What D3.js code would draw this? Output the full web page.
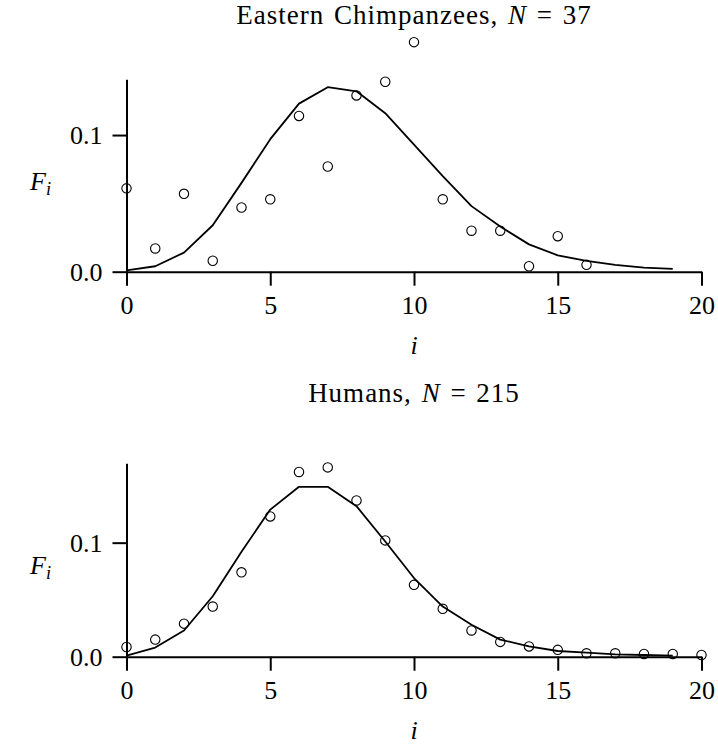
<!DOCTYPE html>
<html>
<head>
<meta charset="utf-8">
<script src="https://cdn.jsdelivr.net/npm/d3@7/dist/d3.min.js"></script>
<style>
  html, body { margin: 0; padding: 0; background: #fff; }
  svg text { font-family: "Liberation Serif", "Times New Roman", serif; fill: #000; }
</style>
</head>
<body>
<svg id="chart" width="718" height="746"></svg>
<script>
// Class index i (x axis)
const xTicks = [0, 5, 10, 15, 20];

// Eastern chimpanzees, N = 37
const chimpObserved = [0.061, 0.017, 0.057, 0.008, 0.047, 0.053, 0.114, 0.077, 0.129, 0.139,
                       0.168, 0.053, 0.030, 0.030, 0.004, 0.026, 0.005];
const chimpFitted   = [0.001, 0.004, 0.014, 0.034, 0.065, 0.097, 0.123, 0.135, 0.132, 0.116,
                       0.093, 0.070, 0.048, 0.033, 0.020, 0.012, 0.008, 0.005, 0.003, 0.002];

// Humans, N = 215
const humanObserved = [0.0085, 0.015, 0.029, 0.044, 0.074, 0.123, 0.162, 0.166, 0.137, 0.102,
                       0.063, 0.042, 0.023, 0.013, 0.009, 0.006, 0.003, 0.003, 0.0024, 0.0024, 0.0015];
const humanFitted   = [0.001, 0.008, 0.023, 0.053, 0.092, 0.129, 0.149, 0.149, 0.132, 0.101,
                       0.069, 0.044, 0.028, 0.015, 0.009, 0.005, 0.0035, 0.002, 0.0015, 0.001];

const yTicks = [0.0, 0.1];

const panels = [
  { name: "Eastern Chimpanzees", n: 37, observed: chimpObserved, fitted: chimpFitted,
    yMax: 0.1408, top: 79.3, bottom: 271.7, titleY: 24 },
  { name: "Humans", n: 215, observed: humanObserved, fitted: humanFitted,
    yMax: 0.1696, top: 463.3, bottom: 656.7, titleY: 402 }
];

const svg = d3.select("#chart");
const FS = 26;
const x = d3.scaleLinear().domain([0, 20]).range([126.5, 701.5]);

panels.forEach(p => {
  const y = d3.scaleLinear().domain([0, p.yMax]).range([p.bottom, p.top]);
  const g = svg.append("g");

  // title
  const t = g.append("text")
    .attr("x", x(10)).attr("y", p.titleY)
    .attr("text-anchor", "middle")
    .attr("font-size", 27)
    .attr("letter-spacing", 1)
    .attr("word-spacing", 2);
  t.append("tspan").text(p.name + ", ");
  t.append("tspan").attr("font-style", "italic").text("N");
  t.append("tspan").text(" = " + p.n);

  // x axis
  const xa = g.append("g")
    .attr("transform", `translate(0,${p.bottom})`)
    .call(d3.axisBottom(x).tickValues(xTicks).tickSize(14).tickSizeOuter(0).tickPadding(10));
  // y axis
  const ya = g.append("g")
    .attr("transform", `translate(${x(0)},0)`)
    .call(d3.axisLeft(y).tickValues(yTicks).tickFormat(d3.format(".1f"))
      .tickSize(14).tickSizeOuter(0).tickPadding(10));

  [xa, ya].forEach(a => {
    a.select(".domain").attr("stroke", "#000").attr("stroke-width", 2);
    a.selectAll(".tick line").attr("stroke", "#000").attr("stroke-width", 2);
    a.selectAll(".tick text")
      .attr("font-family", "Liberation Serif, serif")
      .attr("font-size", FS).attr("fill", "#000");
  });
  xa.selectAll(".tick text").attr("dy", "0.71em");
  ya.selectAll(".tick text").attr("dy", "0.34em");

  // fitted curve
  g.append("path")
    .datum(p.fitted)
    .attr("fill", "none")
    .attr("stroke", "#000")
    .attr("stroke-width", 1.8)
    .attr("stroke-linejoin", "round")
    .attr("d", d3.line().x((d, i) => x(i)).y(d => y(d)));

  // observed frequencies
  g.selectAll("circle.obs")
    .data(p.observed)
    .join("circle")
    .attr("class", "obs")
    .attr("cx", (d, i) => x(i))
    .attr("cy", d => y(d))
    .attr("r", 4.7)
    .attr("fill", "none")
    .attr("stroke", "#000")
    .attr("stroke-width", 1.1);

  // axis labels
  const fy = (p.top + p.bottom) / 2 + 14;
  const fl = g.append("text").attr("x", 30).attr("y", fy).attr("font-size", FS);
  fl.append("tspan").attr("font-style", "italic").text("F");
  fl.append("tspan").attr("font-style", "italic").attr("font-size", FS * 0.7)
    .attr("dy", 5).text("i");

  g.append("text")
    .attr("x", x(10)).attr("y", p.bottom + 82)
    .attr("text-anchor", "middle")
    .attr("font-size", FS).attr("font-style", "italic")
    .text("i");
});
</script>
</body>
</html>
